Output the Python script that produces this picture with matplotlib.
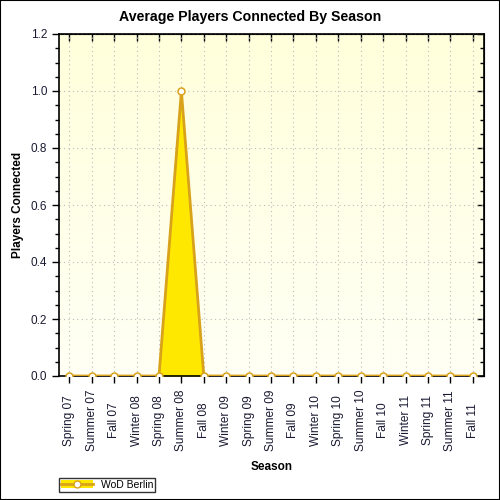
import numpy as np
import matplotlib
matplotlib.use("Agg")
import matplotlib.pyplot as plt
from matplotlib.patches import Patch, Rectangle
from matplotlib.lines import Line2D
from matplotlib.ticker import MultipleLocator, FormatStrFormatter, NullFormatter

seasons = ["Spring 07", "Summer 07", "Fall 07", "Winter 08", "Spring 08",
           "Summer 08", "Fall 08", "Winter 09", "Spring 09", "Summer 09",
           "Fall 09", "Winter 10", "Spring 10", "Summer 10", "Fall 10",
           "Winter 11", "Spring 11", "Summer 11", "Fall 11"]
players = [0, 0, 0, 0, 0, 1.0, 0, 0, 0, 0, 0, 0, 0, 0, 0, 0, 0, 0, 0]
series_name = "WoD Berlin"

plt.rcParams['font.family'] = ['Liberation Sans', 'DejaVu Sans']
line_col = '#D9A21B'
fill_col = '#FFE800'
text_col = '#1a1a33'

fig = plt.figure(figsize=(5, 5), dpi=100)
fig.patches.append(Rectangle((0, 0), 1, 1, transform=fig.transFigure,
                             fill=False, edgecolor='black', linewidth=1.5))
ax = fig.add_axes([0.118, 0.248, 0.850, 0.684])

x = np.arange(len(seasons))

# yellow gradient background
grad = np.linspace(0, 1, 256).reshape(-1, 1)
top = np.array([1.0, 1.0, 0.86])
bot = np.array([1.0, 1.0, 0.96])
img = top * (1 - grad[..., None]) + bot * grad[..., None]
ax.imshow(img, extent=[0, 1, 0, 1], transform=ax.transAxes, aspect='auto', zorder=0)

ax.fill_between(x, players, 0, color=fill_col, zorder=2, linewidth=0)
ax.plot(x, players, color=line_col, linewidth=2, zorder=3, clip_on=True,
        marker='o', markersize=5, markerfacecolor='white',
        markeredgecolor=line_col, markeredgewidth=1.1)

ax.set_xlim(-0.46, len(seasons) - 0.5)
ax.set_ylim(0, 1.2)
ax.set_xticks(x)
ax.set_xticklabels(seasons, rotation=90, fontsize=8.6, color=text_col, va='center')
ax.yaxis.set_major_locator(MultipleLocator(0.2))
ax.yaxis.set_minor_locator(MultipleLocator(0.05))
ax.yaxis.set_major_formatter(FormatStrFormatter('%.1f'))
ax.tick_params(axis='y', labelsize=8.5, labelcolor=text_col)
ax.tick_params(axis='both', which='major', direction='out', length=5, width=1)
ax.tick_params(axis='x', pad=27)
ax.tick_params(axis='y', which='minor', direction='out', length=3, width=1)
ax.grid(True, which='major', linestyle=(0, (1, 3)), color='#BBBBBB', linewidth=0.8)
for gl in ax.get_xgridlines() + ax.get_ygridlines():
    gl.set_zorder(1)

# inward ticks on top and right
sx = ax.secondary_xaxis('top')
sx.set_xticks(x)
sx.xaxis.set_major_formatter(NullFormatter())
sx.tick_params(direction='in', length=5, width=1)
sy = ax.secondary_yaxis('right')
sy.yaxis.set_major_locator(MultipleLocator(0.2))
sy.yaxis.set_minor_locator(MultipleLocator(0.05))
sy.yaxis.set_major_formatter(NullFormatter())
sy.tick_params(which='major', direction='in', length=5, width=1)
sy.tick_params(which='minor', direction='in', length=3, width=1)

for s in ax.spines.values():
    s.set_linewidth(1.2)

fig.text(0.5, 1 - 17 / 500, "Average Players Connected By Season",
         fontsize=10.2, fontweight='bold', ha='center', va='center')
ax.set_xlabel("Season", fontsize=8.5, fontweight='bold', labelpad=7)
ax.set_ylabel("Players Connected", fontsize=8.5, fontweight='bold', labelpad=5)

handle = (Patch(facecolor=fill_col, edgecolor='none'),
          Line2D([], [], color=line_col, linewidth=2, marker='o', markersize=5,
                 markerfacecolor='white', markeredgecolor=line_col))
leg = fig.legend([handle], [series_name], loc='lower left',
                 bbox_to_anchor=(0.108, 0.006), fontsize=7.5, frameon=True,
                 fancybox=False, edgecolor='black', handlelength=3,
                 borderpad=0.2, handletextpad=0.8)
leg.get_frame().set_linewidth(1)

plt.savefig("out.png", dpi=100)
